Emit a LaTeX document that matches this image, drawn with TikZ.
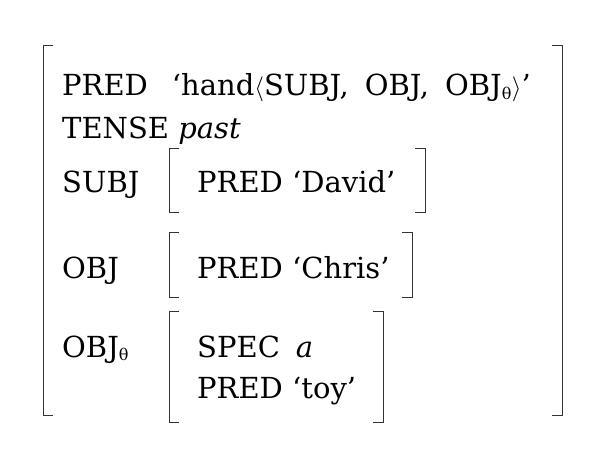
\documentclass[tikz,border=0pt]{standalone}
\usepackage{fontspec}
\setmainfont{DejaVu Serif}
\usetikzlibrary{positioning}
\tikzset{
  txt/.style={anchor=base west, inner sep=0pt, font=\fontsize{29}{34}\selectfont},
  brk/.style={line width=0.6pt, black!80}
}
\newcommand{\lbrk}[3]{\draw[brk] (#1+10,#2) -- (#1,#2) -- (#1,#3) -- (#1+10,#3);}
\newcommand{\rbrk}[3]{\draw[brk] (#1-10,#2) -- (#1,#2) -- (#1,#3) -- (#1-10,#3);}
\newcommand{\thsub}{\textsubscript{\fontsize{16}{18}\selectfont θ}}
\begin{document}
\begin{tikzpicture}[x=1pt,y=-1pt]
        \useasboundingbox (0,0) rectangle (612,454);
        % outer f-structure
        \lbrk{43}{45}{415}
        \rbrk{562}{45}{415}
        \node[txt] (pred) at (62,96) {PRED\hspace{24pt}‘hand$\langle$SUBJ,\hspace{16pt}OBJ,\hspace{16pt}OBJ\thsub$\rangle$’};
        \node[txt] (tense) at (62,139) {TENSE \textit{past}};
        \node[txt] (subj) at (62,193) {SUBJ};
        \node[txt] (obj) at (62,278) {OBJ};
        \node[txt] (objt) at (62,357) {OBJ\thsub};
        % SUBJ value
        \lbrk{169}{148}{212}
        \rbrk{425}{148}{212}
        \node[txt] (david) at (197,193) {PRED ‘David’};
        % OBJ value
        \lbrk{169}{232}{297}
        \rbrk{412}{232}{297}
        \node[txt] (chris) at (197,278) {PRED ‘Chris’};
        % OBJ-theta value
        \lbrk{169}{311}{422}
        \rbrk{383}{311}{422}
        \node[txt] (spec) at (197,357) {SPEC\hspace{16pt}\textit{a}};
        \node[txt] (toy) at (197,398) {PRED ‘toy’};
\end{tikzpicture}
\end{document}
